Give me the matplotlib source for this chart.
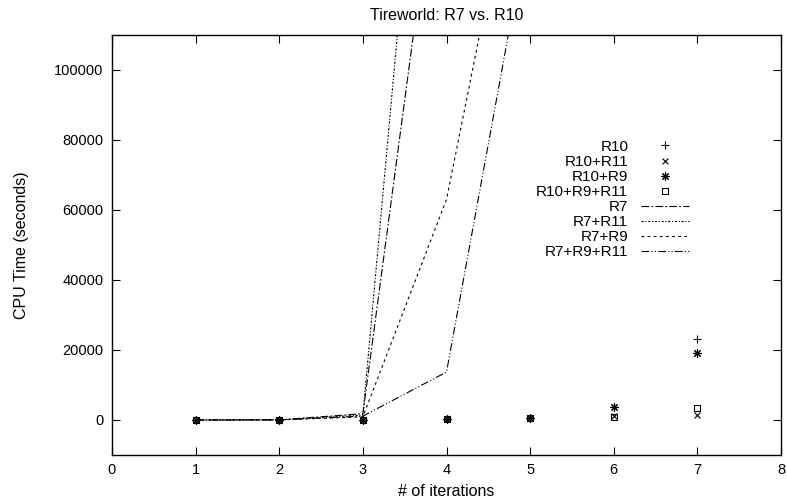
import matplotlib
matplotlib.use("Agg")
import matplotlib.pyplot as plt

plt.rcParams['font.family'] = ['Liberation Sans', 'DejaVu Sans']

iterations = [1, 2, 3, 4, 5, 6, 7]

# R10 family: measured points
r10 = [5, 10, 60, 300, 700, 3700, 23000]
r10_r11 = [5, 10, 50, 250, 550, 1100, 1500]
r10_r9 = [5, 10, 60, 300, 650, 3700, 19100]
r10_r9_r11 = [5, 10, 50, 250, 550, 900, 3400]

# R7 family: runs that blow up after a few iterations
r7_iters = [1, 2, 3, 4]
r7 = [10, 30, 1800, 181000]
r7_r11_iters = [1, 2, 3, 4]
r7_r11 = [10, 30, 1400, 265000]
r7_r9_iters = [1, 2, 3, 4, 5]
r7_r9 = [10, 30, 900, 63000, 182000]
r7_r9_r11_iters = [1, 2, 3, 4, 5]
r7_r9_r11 = [10, 30, 1100, 13700, 144000]

fig = plt.figure(figsize=(7.87, 4.99), dpi=100)
ax = fig.add_axes([0.1423, 0.0882, 0.8501, 0.8417])

ms = 6
ax.plot(iterations, r10, linestyle='none', marker='+', color='black', ms=ms, mew=0.8, label='R10')
ax.plot(iterations, r10_r11, linestyle='none', marker='x', color='black', ms=ms - 1, mew=0.8, label='R10+R11')
ax.plot(iterations, r10_r9, linestyle='none', marker=(8, 2, 0), color='black', ms=ms, mew=0.8, label='R10+R9')
ax.plot(iterations, r10_r9_r11, linestyle='none', marker='s', mfc='none', color='black', ms=ms - 1, mew=0.8, label='R10+R9+R11')

lw = 0.8
ax.plot(r7_iters, r7, color='black', lw=lw, linestyle=(0, (7, 2, 1.5, 2)), label='R7')
ax.plot(r7_r11_iters, r7_r11, color='black', lw=lw, linestyle=(0, (2, 1.5, 1, 1.5)), label='R7+R11')
ax.plot(r7_r9_iters, r7_r9, color='black', lw=lw, linestyle=(0, (2.5, 3)), label='R7+R9')
ax.plot(r7_r9_r11_iters, r7_r9_r11, color='black', lw=lw, linestyle=(0, (7, 2, 1, 2, 1, 2)), label='R7+R9+R11')

ax.set_xlim(0, 8)
ax.set_ylim(-10000, 110000)
ax.set_xticks(range(0, 9))
ax.set_yticks(range(0, 100001, 20000))

ax.tick_params(direction='in', length=6, width=0.8, top=True, right=True,
               labelsize=10.5, pad=6, colors='black')
for s in ax.spines.values():
    s.set_linewidth(1.0)

ax.set_title('Tireworld: R7 vs. R10', fontsize=11.5, pad=11)
ax.set_xlabel('# of iterations', fontsize=11.5, labelpad=5)
ax.set_ylabel('CPU Time (seconds)', fontsize=11.5, labelpad=18)

leg = ax.legend(loc='upper left', bbox_to_anchor=(0.625, 0.765), markerfirst=False,
                frameon=False, fontsize=11, handlelength=3.2, handletextpad=0.8,
                labelspacing=0.07, borderaxespad=0)
for col in leg._legend_box._children[1]._children:
    col.align = 'right'

fig.savefig('out.png', dpi=100)
